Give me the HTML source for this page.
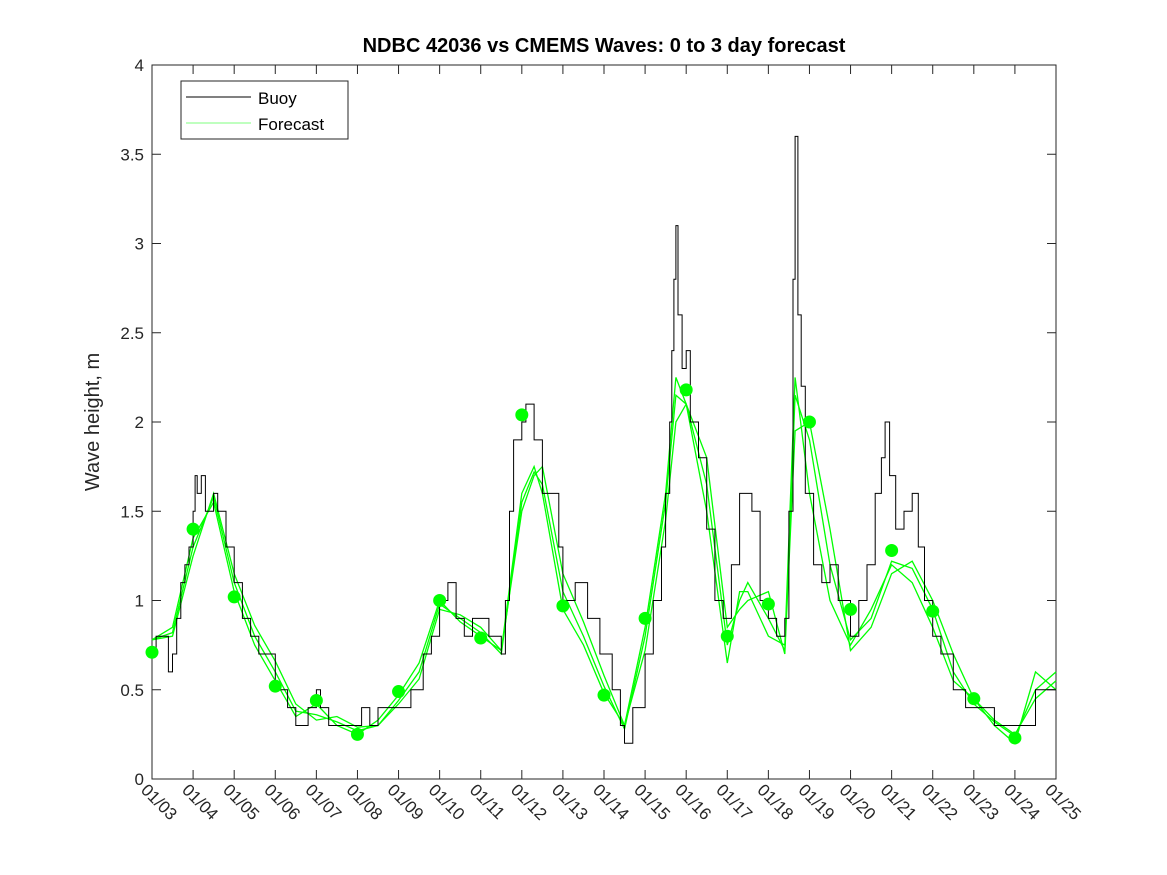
<!DOCTYPE html>
<html><head><meta charset="utf-8"><style>
body{margin:0;background:#fff}
svg{display:block;font-family:"Liberation Sans",sans-serif}
</style></head><body>
<svg id="chart" width="1167" height="875" viewBox="0 0 1167 875">
<rect x="0" y="0" width="1167" height="875" fill="#fff"/>
<rect x="152" y="65" width="904" height="714" fill="#fff" stroke="#262626" stroke-width="1"/>
<g id="ticks"></g>
<g id="series"></g>
<text x="604" y="52" text-anchor="middle" font-size="20" font-weight="bold" fill="#000">NDBC 42036 vs CMEMS Waves: 0 to 3 day forecast</text>
<text transform="translate(99,422) rotate(-90)" text-anchor="middle" font-size="20" fill="#262626">Wave height, m</text>
<g>
<rect x="181" y="81" width="167" height="58" fill="#fff" stroke="#262626"/>
<line x1="186" y1="97" x2="251" y2="97" stroke="#000"/>
<text x="258" y="104" font-size="17" fill="#000">Buoy</text>
<line x1="186" y1="123" x2="251" y2="123" stroke="#0f0" stroke-width="0.6"/>
<text x="258" y="130" font-size="17" fill="#000">Forecast</text>
</g>
</svg>
<script>
const xLabels=["01/03","01/04","01/05","01/06","01/07","01/08","01/09","01/10","01/11","01/12","01/13","01/14","01/15","01/16","01/17","01/18","01/19","01/20","01/21","01/22","01/23","01/24","01/25"];
const yTicks=[0,0.5,1,1.5,2,2.5,3,3.5,4];
const buoyT=[0,0.1,0.4,0.5,0.6,0.7,0.8,0.9,1.0,1.05,
1.1,1.2,1.3,1.5,1.6,1.8,2.0,2.2,2.4,2.6,
3.0,3.3,3.5,3.8,4.0,4.1,4.3,4.6,4.9,5.1,
5.3,5.5,6.0,6.3,6.6,6.8,7.0,7.2,7.4,7.6,
7.8,8.0,8.2,8.5,8.6,8.7,8.8,9.0,9.1,9.3,
9.5,9.7,9.9,10.0,10.3,10.6,10.9,11.2,11.4,11.5,
11.7,12.0,12.2,12.4,12.5,12.6,12.65,12.7,12.75,12.8,
12.9,13.0,13.1,13.3,13.5,13.7,13.9,14.1,14.3,14.6,
14.8,15.0,15.2,15.4,15.5,15.6,15.65,15.72,15.8,15.9,
16.1,16.3,16.5,16.7,17.0,17.2,17.4,17.6,17.75,17.84,
17.95,18.1,18.3,18.5,18.65,18.8,19.0,19.2,19.5,19.8,
20.0,20.5,20.8,21.2,21.5,22.0];
const buoyV=[0.7,0.8,0.6,0.7,0.9,1.1,1.2,1.3,1.5,1.7,
1.6,1.7,1.5,1.6,1.5,1.3,1.1,0.9,0.8,0.7,
0.5,0.4,0.3,0.4,0.5,0.4,0.3,0.3,0.3,0.4,
0.3,0.4,0.4,0.5,0.7,0.8,1.0,1.1,0.9,0.8,
0.9,0.9,0.8,0.7,1.0,1.5,1.9,2.0,2.1,1.9,
1.6,1.6,1.3,1.0,1.1,0.9,0.7,0.5,0.3,0.2,
0.4,0.7,1.0,1.3,1.6,2.0,2.4,2.8,3.1,2.6,
2.3,2.4,2.0,1.8,1.4,1.0,0.9,1.2,1.6,1.5,
1.0,0.9,0.8,0.9,1.5,2.8,3.6,2.6,2.2,1.6,
1.2,1.1,1.2,1.0,0.8,1.0,1.2,1.6,1.8,2.0,
1.7,1.4,1.5,1.6,1.3,1.0,0.8,0.7,0.5,0.4,
0.4,0.3,0.3,0.3,0.5,0.5];
const fcT=[0,0.5,1,1.5,2,2.5,3,3.5,4,4.5,5,5.5,6,6.5,7,7.5,8,8.5,9,9.3,9.5,10,10.5,11,11.5,12,12.5,12.75,13,13.5,14,14.3,14.5,15,15.4,15.65,16,16.5,17,17.5,18,18.5,19,19.5,20,20.5,21,21.5,22];
const fc1=[0.78,0.85,1.35,1.55,1.05,0.75,0.55,0.35,0.42,0.3,0.25,0.33,0.47,0.65,1.0,0.88,0.8,0.72,1.6,1.75,1.6,0.95,0.75,0.48,0.3,0.85,1.6,2.25,2.1,1.5,0.65,1.05,1.05,0.8,0.75,2.25,1.6,1.0,0.75,0.95,1.2,1.1,0.85,0.55,0.45,0.33,0.25,0.45,0.55];
const fc2=[0.78,0.82,1.3,1.58,1.1,0.8,0.6,0.38,0.36,0.32,0.27,0.3,0.44,0.6,0.98,0.9,0.82,0.7,1.55,1.72,1.65,1.05,0.8,0.52,0.28,0.8,1.55,2.15,2.1,1.65,0.75,1.0,1.1,0.9,0.72,2.15,1.9,1.2,0.78,0.9,1.22,1.18,0.95,0.6,0.42,0.32,0.24,0.5,0.6];
const fc3=[0.78,0.8,1.25,1.6,1.15,0.86,0.66,0.42,0.33,0.35,0.29,0.3,0.42,0.56,0.95,0.92,0.85,0.72,1.5,1.7,1.75,1.15,0.88,0.58,0.3,0.72,1.45,2.0,2.1,1.8,0.85,0.95,1.0,1.05,0.7,1.95,2.0,1.4,0.72,0.85,1.15,1.22,1.0,0.7,0.45,0.3,0.2,0.6,0.5];
const dotDays=[0,1,2,3,4,5,6,7,8,9,10,11,12,13,14,15,16,17,18,19,20,21];
const dotV=[0.71,1.40,1.02,0.52,0.44,0.25,0.49,1.00,0.79,2.04,0.97,0.47,0.90,2.18,0.80,0.98,2.00,0.95,1.28,0.94,0.45,0.23];

const X0=152,X1=1056,Y0=779,Y1=65;
const xs=d=>X0+(X1-X0)*d/22;
const ys=v=>Y0-(Y0-Y1)*v/4;
const NS="http://www.w3.org/2000/svg";
const tk=document.getElementById('ticks'),se=document.getElementById('series');
function mk(tag,attrs,parent){const e=document.createElementNS(NS,tag);for(const k in attrs)e.setAttribute(k,attrs[k]);parent.appendChild(e);return e;}
xLabels.forEach((l,i)=>{const x=xs(i);
 let t=mk('line',{x1:x,y1:Y0,x2:x,y2:Y0-9,stroke:'#262626'},tk);
 
 
 mk('line',{x1:x,y1:Y1,x2:x,y2:Y1+9,stroke:'#262626'},tk);
 const tx=mk('text',{transform:`translate(${x-12},${Y0+12}) rotate(45)`,'font-size':17,fill:'#262626'},tk);
 tx.textContent=l;
 
 
});
yTicks.forEach(v=>{const y=ys(v);
 let t=mk('line',{x1:X0,y1:y,x2:X0+9,y2:y,stroke:'#262626'},tk);
 
 
 mk('line',{x1:X1,y1:y,x2:X1-9,y2:y,stroke:'#262626'},tk);
 const tx=mk('text',{x:X0-8,y:y+6,'text-anchor':'end','font-size':17,fill:'#262626'},tk);
 tx.textContent=String(v);
 
 
});
function pts(T,V){return T.map((t,i)=>xs(t).toFixed(1)+','+ys(V[i]).toFixed(1)).join(' ');}
[fc1,fc2,fc3].forEach((f,k)=>{
 const p=mk('polyline',{points:pts(fcT,f),fill:'none',stroke:'#00ff00','stroke-width':1.3},se);
 
 
});
let sp='';buoyT.forEach((t,i)=>{if(i>0)sp+=xs(t).toFixed(1)+','+ys(buoyV[i-1]).toFixed(1)+' ';sp+=xs(t).toFixed(1)+','+ys(buoyV[i]).toFixed(1)+' ';});
const bl=mk('polyline',{points:sp,fill:'none',stroke:'#000','stroke-width':1},se);


dotDays.forEach((d,i)=>{
 const c=mk('circle',{cx:xs(d),cy:ys(dotV[i]),r:6.5,fill:'#00ff00'},se);
 
 
});
</script>
</body></html>
